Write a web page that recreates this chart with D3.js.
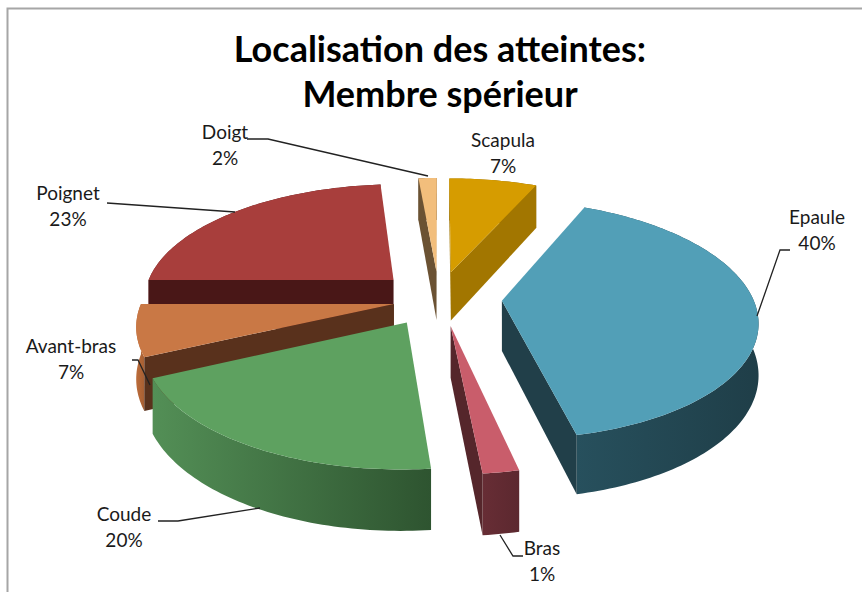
<!DOCTYPE html>
<html><head><meta charset="utf-8">
<script src="https://cdn.jsdelivr.net/npm/d3@7/dist/d3.min.js"></script>
<style>html,body{margin:0;padding:0;background:#fff}svg{display:block}</style>
</head><body><svg id="c" width="862" height="592"></svg>
<script>
const categories=["Scapula","Epaule","Bras","Coude","Avant-bras","Poignet","Doigt"];
const values=[6.67,39.86,1.92,19.61,6.94,23.61,1.39];
const percentLabels=["7%","40%","1%","20%","7%","23%","2%"];
const titleLines=["Localisation des atteintes:","Membre spérieur"];
const topColors=["#D69C00","#529FB7","#C95D6B","#5EA160","#C97845","#A83E3C","#F2BE7C"];
const cutColors=["#A27600","#213F49","#55262B","#2F5631","#59311C","#491717","#6B5233"];
const rimFrom=["#A27600","#27505D","#672D35","#538F56","#BC6C3A","#6A2422","#6B5233"];
const rimTo=["#7A5900","#1F3E48","#5C282F","#2E5430","#A65F33","#491717","#6B5233"];

const W=862,H=592,cx=445,cy=298,R=251,T=115.8,k=0.155,depth=50,explode=0.235;
const layout={
 Scapula:{nudge:-6,x:503,y:[147,173]},
 Epaule:{nudge:-2,x:817,y:[224,250],lead:[[790,250],[780,250],[757,316]]},
 Bras:{nudge:-4,x:542,y:[555,581],lead:[[523,556],[513,556],[500,535]]},
 Coude:{nudge:-8,x:124,y:[521,547],lead:[[158,521],[178,521],[260,508]]},
 "Avant-bras":{nudge:7,x:71,y:[353,379],lead:[[132,360],[138,360],[150,385]]},
 Poignet:{nudge:-9,x:68,y:[200,226],lead:[[107,203],[235,212]]},
 Doigt:{nudge:-6,x:225,y:[139,165],lead:[[247,139],[268,139],[428,176]]}
};
const svg=d3.select("#c");
const defs=svg.append("defs");
const proj=(X,Y,z)=>{const s=1/(1+k*Y);return [cx+R*X*s,cy-T*Y*s+depth*z*s];};
const pie=d3.pie().sort(null).value(d=>d)(values);
const line=d3.line();
svg.append("path").attr("d",`M7.5 ${H}V8.5H${W}`).attr("fill","none").attr("stroke","#a6a6a6").attr("stroke-width",2);
const slices=pie.map((p,i)=>{
  const mid=(p.startAngle+p.endAngle)/2;
  const ox=explode*Math.sin(mid),oy=explode*Math.cos(mid);
  const dx=layout[categories[i]].nudge;
  const P=(X,Y,z)=>{const q=proj(X,Y,z);return [q[0]+dx,q[1]];};
  const n=Math.max(3,Math.ceil((p.endAngle-p.startAngle)/0.02));
  const angs=d3.range(n+1).map(j=>p.startAngle+(p.endAngle-p.startAngle)*j/n);
  const rim=z=>angs.map(a=>P(ox+Math.sin(a),oy+Math.cos(a),z));
  return {i,mid,rim,apex:z=>P(ox,oy,z)};
});
const sorted=slices.slice().sort((a,b)=>Math.cos(b.mid)-Math.cos(a.mid));
const g=svg.append("g");
sorted.forEach(s=>{
  const i=s.i,top=s.rim(0),bot=s.rim(1),a0=s.apex(0),a1=s.apex(1);
  const xs=top.map(d=>d[0]);
  const id="rim"+i;
  const gr=defs.append("linearGradient").attr("id",id).attr("gradientUnits","userSpaceOnUse")
    .attr("x1",d3.min(xs)).attr("x2",d3.max(xs)).attr("y1",0).attr("y2",0);
  gr.append("stop").attr("offset",0).attr("stop-color",rimFrom[i]);
  gr.append("stop").attr("offset",1).attr("stop-color",rimTo[i]);
  g.append("path").attr("d",line(top.concat(bot.slice().reverse()))+"Z").attr("fill",`url(#${id})`);
  const cen=top[Math.floor(top.length/2)];
  [[top[0],bot[0]],[top[top.length-1],bot[bot.length-1]]].forEach(([t,b])=>{
    const ex=t[0]-a0[0],ey=t[1]-a0[1];
    const inner=ex*(cen[1]-a0[1])-ey*(cen[0]-a0[0]);
    const ext=ex*(a1[1]-a0[1])-ey*(a1[0]-a0[0]);
    if(inner*ext<0) g.append("path").attr("d",line([a0,t,b,a1])+"Z").attr("fill",cutColors[i]);
  });
  g.append("path").attr("d",line([a0].concat(top))+"Z").attr("fill",topColors[i]);
});
categories.forEach((c,i)=>{
  const l=layout[c];
  if(l.lead) svg.append("path").attr("d",line(l.lead)).attr("fill","none").attr("stroke","#222").attr("stroke-width",1.3);
  [c,percentLabels[i]].forEach((t,j)=>{
    svg.append("text").attr("x",l.x).attr("y",l.y[j]).attr("text-anchor","middle")
     .attr("font-family","Lato,'Open Sans',sans-serif").attr("font-size",19).attr("fill","#1a1a1a").text(t);
  });
});
titleLines.forEach((t,j)=>{
  svg.append("text").attr("x",440).attr("y",[62,107][j]).attr("text-anchor","middle")
   .attr("font-family","Lato,sans-serif").attr("font-weight",700).attr("font-size",36).attr("fill","#000").text(t);
});
</script></body></html>
